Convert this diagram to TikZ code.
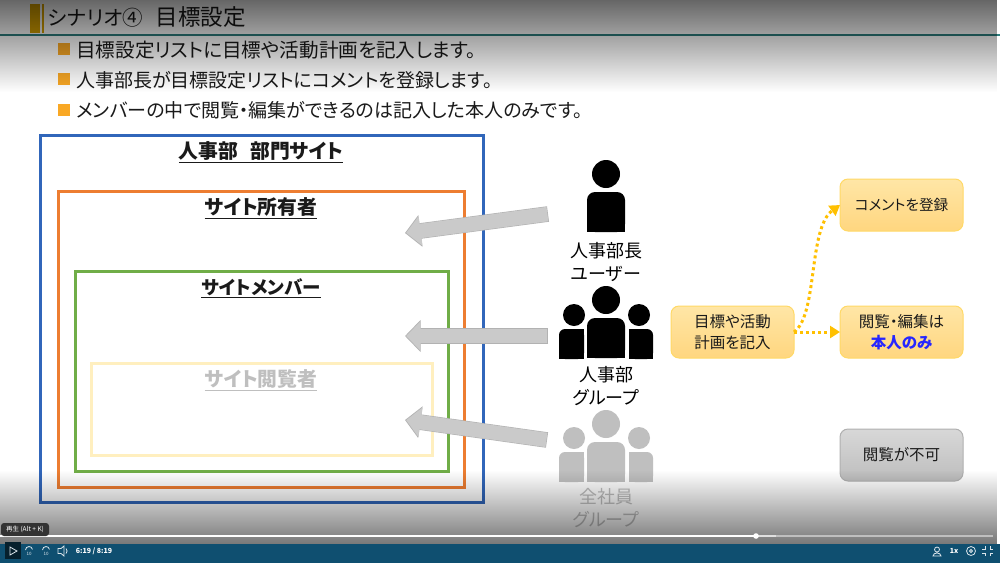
\documentclass[tikz,border=0pt]{standalone}
\usepackage{fontspec}
\setmainfont{Noto Sans CJK JP}[RawFeature=+palt]
\usetikzlibrary{arrows.meta,fadings,calc}
\definecolor{ink}{HTML}{1A1A1A}
\definecolor{gr}{HTML}{BFBFBF}
\definecolor{arrowf}{HTML}{CACACA}
\definecolor{arrowe}{HTML}{B2B2B2}
\definecolor{goldc}{HTML}{FFC000}
\definecolor{bullc}{HTML}{F9A825}
\definecolor{framea}{HTML}{3166BA}
\definecolor{frameb}{HTML}{ED7D31}
\definecolor{framec}{HTML}{70AD47}
\definecolor{framed}{HTML}{FFEFBF}
\definecolor{yedge}{HTML}{FFD966}
\definecolor{ytop}{HTML}{FFE6A6}
\definecolor{ybot}{HTML}{FFD67F}
\definecolor{gedge}{HTML}{B0B0B0}
\definecolor{gtop}{HTML}{D8D8D8}
\definecolor{gbot}{HTML}{BDBDBD}
\definecolor{tealc}{HTML}{2E7F7F}
\definecolor{barc}{HTML}{0F4F70}
\definecolor{icon}{HTML}{DCE6EC}
\tikzfading[name=topfade,top color=transparent!40,bottom color=transparent!100]
\tikzfading[name=botfade,top color=transparent!100,bottom color=transparent!47]
\tikzset{x=1pt,y=-1pt,
 frame/.style={draw=#1,line width=3pt,fill=none,outer sep=0pt,inner sep=0pt,anchor=north west},
 title/.style={font=\fontsize{19.8}{24}\selectfont\bfseries,text=ink,inner sep=0pt},
 bul/.style={font=\fontsize{19}{24}\selectfont,text=ink,anchor=west,inner sep=0pt},
 sq/.style={fill=bullc,draw=none,minimum size=12pt,inner sep=0pt,outer sep=0pt},
 lab/.style={font=\fontsize{18}{23}\selectfont,align=center,inner sep=0pt},
 yb/.style={draw=yedge,line width=1pt,rounded corners=8pt,top color=ytop,bottom color=ybot,minimum width=123pt,minimum height=52pt,align=center,inner sep=0pt,outer sep=0pt,font=\fontsize{15.5}{21}\selectfont,text=ink},
 gb/.style={yb,draw=gedge,top color=gtop,bottom color=gbot},
 garrowb/.style={line width=15.6pt,draw=arrowe,-{Triangle[length=15.5pt,width=31pt]}},
 garrowf/.style={line width=14.4pt,draw=arrowf,shorten >=1.2pt,shorten <=0.6pt,-{Triangle[length=14.5pt,width=29pt]}},
 dotarrow/.style={draw=goldc,line width=3pt,dash pattern=on 3pt off 3pt,-{Triangle[length=10pt,width=12pt,fill=goldc]}},
 ic/.style={draw=icon,line width=.8pt},
}
\newcommand{\bighead}[3]{\fill[#3] (#1,#2) circle[radius=14];
 \fill[#3,rounded corners=8] (#1-19,#2+58) -- (#1-19,#2+18) -- (#1+19,#2+18) -- (#1+19,#2+58) -- cycle;
 \fill[#3] (#1-19,#2+48) rectangle (#1+19,#2+58);}
\newcommand{\leftguy}[3]{\fill[#3] (#1,#2) circle[radius=11];
 \fill[#3,rounded corners=6] (#1-15,#2+44) -- (#1-15,#2+14) -- (#1+10,#2+14) -- (#1+10,#2+44) -- cycle;
 \fill[#3] (#1-15,#2+34) rectangle (#1+10,#2+44);
 \fill[#3] (#1,#2+14) rectangle (#1+10,#2+34);}
\newcommand{\rightguy}[3]{\fill[#3] (#1,#2) circle[radius=11];
 \fill[#3,rounded corners=6] (#1-10,#2+44) -- (#1-10,#2+14) -- (#1+14,#2+14) -- (#1+14,#2+44) -- cycle;
 \fill[#3] (#1-10,#2+34) rectangle (#1+14,#2+44);
 \fill[#3] (#1-10,#2+14) rectangle (#1,#2+34);}
\begin{document}
\begin{tikzpicture}
\useasboundingbox (0,0) rectangle (1000,563);
\fill[white] (0,0) rectangle (1000,563);
% title
\node[anchor=west,inner sep=0pt,text=ink] (ttl) at (48,17) {{\fontsize{20.5}{24}\selectfont シナリオ④}\hspace{13pt}{\fontsize{22.5}{24}\selectfont 目標設定}};
\fill[goldc!85!black] (30,4) rectangle (40,33);
\fill[goldc!85!black] (42,4) rectangle (44,33);
\draw[draw=tealc,line width=1.2pt] (0,35) -- (1000,35);
% bullets
\node[sq] (s1) at (64,49) {};
\node[sq] (s2) at (64,79) {};
\node[sq] (s3) at (64,110) {};
\node[bul,font=\fontsize{19.6}{24}\selectfont] (b1) at (76,50) {目標設定リストに目標や活動計画を記入します。};
\node[bul] (b2) at (76,80) {人事部長が目標設定リストにコメントを登録します。};
\node[bul] (b3) at (76,110) {メンバーの中で閲覧・編集ができるのは記入した本人のみです。};
% frames
\node[frame=framea,minimum width=443pt,minimum height=367pt] (f1) at (40,135) {};
\node[frame=frameb,minimum width=406pt,minimum height=296pt] (f2) at (58,191) {};
\node[frame=framec,minimum width=373pt,minimum height=200pt] (f3) at (75,271) {};
\node[frame=framed,minimum width=341pt,minimum height=92pt] (f4) at (91,363) {};
\node[title] (t1) at (261,152) {\underline{人事部\hspace{12pt}部門サイト}};
\node[title] (t2) at (261,208) {\underline{サイト所有者}};
\node[title,font=\fontsize{18.5}{24}\selectfont\bfseries] (t3) at (261,288) {\underline{サイトメンバー}};
\node[title,text=gr] (t4) at (261,380) {\underline{サイト閲覧者}};
% people
\bighead{606}{174}{black}
\leftguy{574}{315}{black}
\rightguy{639}{315}{black}
\bighead{606}{300}{black}
\leftguy{574}{438}{gr}
\rightguy{639}{438}{gr}
\bighead{606}{424}{gr}
\node[lab] (u1) at (606,262) {人事部長\\ユーザー};
\node[lab] (u2) at (606,386) {人事部\\グループ};
\node[lab,text=gr] (u3) at (606,508) {全社員\\グループ};
\coordinate (a1s) at (548,214); \coordinate (a1e) at (405,233);
\coordinate (a2s) at (548,336); \coordinate (a2e) at (405,336);
\coordinate (a3s) at (547,440); \coordinate (a3e) at (405,420);
\draw[garrowb] (a1s) -- (a1e);
\draw[garrowf] (a1s) -- (a1e);
\draw[garrowb] (a2s) -- (a2e);
\draw[garrowf] (a2s) -- (a2e);
\draw[garrowb] (a3s) -- (a3e);
\draw[garrowf] (a3s) -- (a3e);
% boxes
\node[yb] (y1) at (732.5,332) {目標や活動\\計画を記入};
\node[yb,font=\fontsize{14.6}{21}\selectfont] (y2) at (901.5,205) {コメントを登録};
\node[yb] (y3) at (901.5,332) {閲覧・編集は\\{\bfseries\color{blue!85!white}本人のみ}};
\node[gb] (y4) at (901.5,455) {閲覧が不可};
\draw[dotarrow] (y1.east) -- (y3.west);
\draw[dotarrow] (y1.east) .. controls (818,315) and (808,228) .. (y2.west);
% overlays
\fill[black,path fading=topfade] (0,0) rectangle (1000,92);
\fill[black,path fading=botfade] (0,470) rectangle (1000,544);
% player
\fill[barc] (0,544) rectangle (1000,563);
\draw[white!75!black,line width=2pt] (0,536) -- (993,536);
\draw[white!88!black,line width=2pt] (756,536) -- (776,536);
\draw[white,line width=2pt] (0,536) -- (756,536);
\fill[white] (756,536) circle[radius=2.8];
\fill[black!60!barc] (5,542) rectangle (21,559);
\draw[ic] (10,547) -- (17,551) -- (10,555) -- cycle;
\fill[black!80,rounded corners=3pt] (1,523) rectangle (49,536);
\node[text=white,font=\fontsize{6.5}{8}\selectfont,inner sep=0pt] (tip) at (25,529.5) {再生 (Alt + K)};
\node[text=white,font=\fontsize{7}{8}\selectfont\bfseries,inner sep=0pt] (tm) at (94,551) {6:19 / 8:19};
\node[text=white,font=\fontsize{7}{8}\selectfont\bfseries,inner sep=0pt] (sp) at (954,551) {1x};
% player icons
\draw[ic] (25.5,550) arc[start angle=180,end angle=350,radius=3.5];
\draw[ic] (42.5,550) arc[start angle=180,end angle=350,radius=3.5];
\node[text=icon,font=\fontsize{4.5}{5}\selectfont,inner sep=0pt] (r1) at (29,554) {10};
\node[text=icon,font=\fontsize{4.5}{5}\selectfont,inner sep=0pt] (r2) at (46,554) {10};
\draw[ic] (58,548.5) -- (61,548.5) -- (64,546) -- (64,556) -- (61,553.5) -- (58,553.5) -- cycle;
\draw[ic] (66,548.5) .. controls (67.5,550) and (67.5,552) .. (66,553.5);
\draw[ic] (937,549.5) circle[radius=2.5] (933,556) .. controls (933,552) and (941,552) .. (941,556) -- cycle;
\draw[ic] (971,551) circle[radius=4.5];
\draw[ic] (971,551) circle[radius=1.5];
\draw[ic] (982,549) -- (985,549) -- (985,546) (990,546) -- (990,549) -- (993,549) (982,553) -- (985,553) -- (985,556) (990,556) -- (990,553) -- (993,553);
\end{tikzpicture}
\end{document}
